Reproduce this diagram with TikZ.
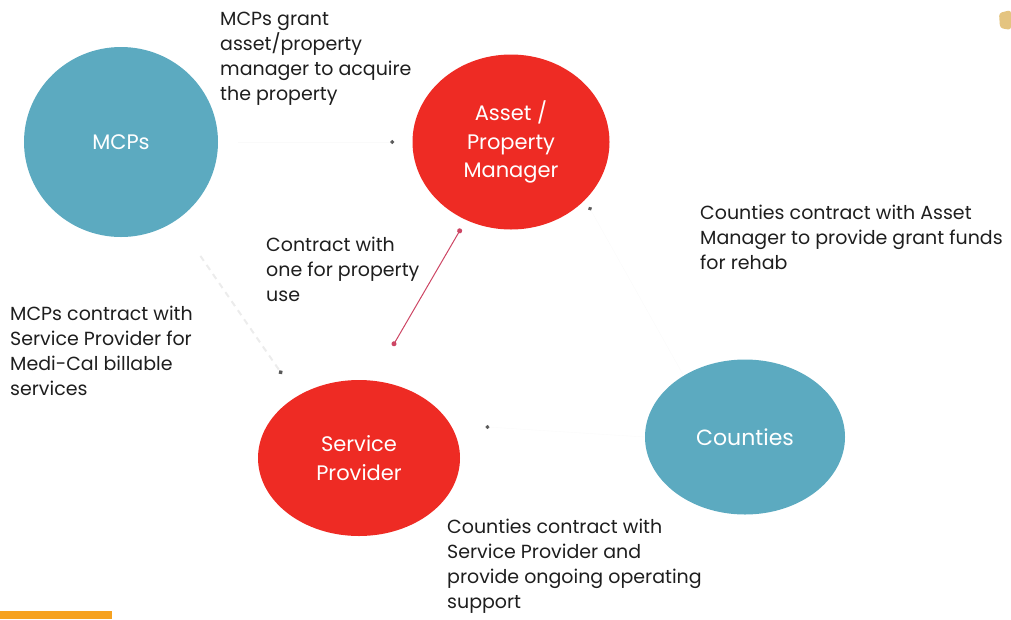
\documentclass[tikz,border=0pt]{standalone}
\usepackage{fontspec}
\setmainfont{Poppins}
\usetikzlibrary{shapes.geometric,arrows.meta}
\definecolor{hubblue}{RGB}{92,170,192}
\definecolor{hubred}{RGB}{238,43,36}
\definecolor{linkred}{RGB}{205,70,100}
\definecolor{notegray}{RGB}{30,30,30}
\definecolor{barorange}{RGB}{246,162,32}
\definecolor{icontan}{RGB}{228,196,128}
\begin{document}
\begin{tikzpicture}[x=1pt,y=-1pt,
	hub/.style={ellipse,inner sep=0pt,text=white,align=center,font=\fontsize{21}{28.5}\selectfont},
	note/.style={anchor=north west,inner sep=0pt,align=left,text=notegray,font=\fontsize{19}{25}\selectfont},
	faint/.style={draw=gray!4,-{Circle[length=4pt,color=gray!70!black]}}]
				\useasboundingbox (0,0) rectangle (1011,619);
				\node[hub,fill=hubblue,minimum width=194pt,minimum height=190pt] (mcps) at (121,142) {MCPs};
				\node[hub,fill=hubred,minimum width=197pt,minimum height=175pt] (asset) at (511,142) {Asset /\\Property\\Manager};
				\node[hub,fill=hubred,minimum width=202pt,minimum height=156pt] (provider) at (359,458) {Service\\Provider};
				\node[hub,fill=hubblue,minimum width=200pt,minimum height=155pt,font=\fontsize{22}{24}\selectfont] (counties) at (745,437) {Counties};
				\node[note] (grantnote) at (220,12) {MCPs grant\\asset/property\\manager to acquire\\the property};
				\node[note] (usenote) at (266,237) {Contract with\\one for property\\use};
				\node[note] (fundnote) at (700,205) {Counties contract with Asset\\Manager to provide grant funds\\for rehab};
				\node[note] (billnote) at (10,306) {MCPs contract with\\Service Provider for\\Medi-Cal billable\\services};
				\node[note] (supportnote) at (447,519) {Counties contract with\\Service Provider and\\provide ongoing operating\\support};
				\draw[faint,shorten <=20pt,shorten >=18pt] (mcps.east) -- (asset.west);
				\draw[faint,draw=gray!15,line width=2pt,dash pattern=on 6pt off 5pt,shorten <=43pt,shorten >=27pt] (mcps.-55) -- (provider.135);
				\draw[faint,shorten >=8pt] (counties.135) -- (asset.-38);
				\draw[faint,shorten >=35pt] (counties.west) -- (provider.20);
				\draw[linkred,line width=1pt,{Circle[length=5pt]}-{Circle[length=5pt]},shorten <=10pt,shorten >=40pt] (asset.-120) -- (provider.80);
				\fill[barorange] (0,611) rectangle (112,619);
				\fill[icontan,rounded corners=3pt] (999,13) -- (1011,10) -- (1011,30) -- (1000,28) -- cycle;
			\end{tikzpicture}
\end{document}
